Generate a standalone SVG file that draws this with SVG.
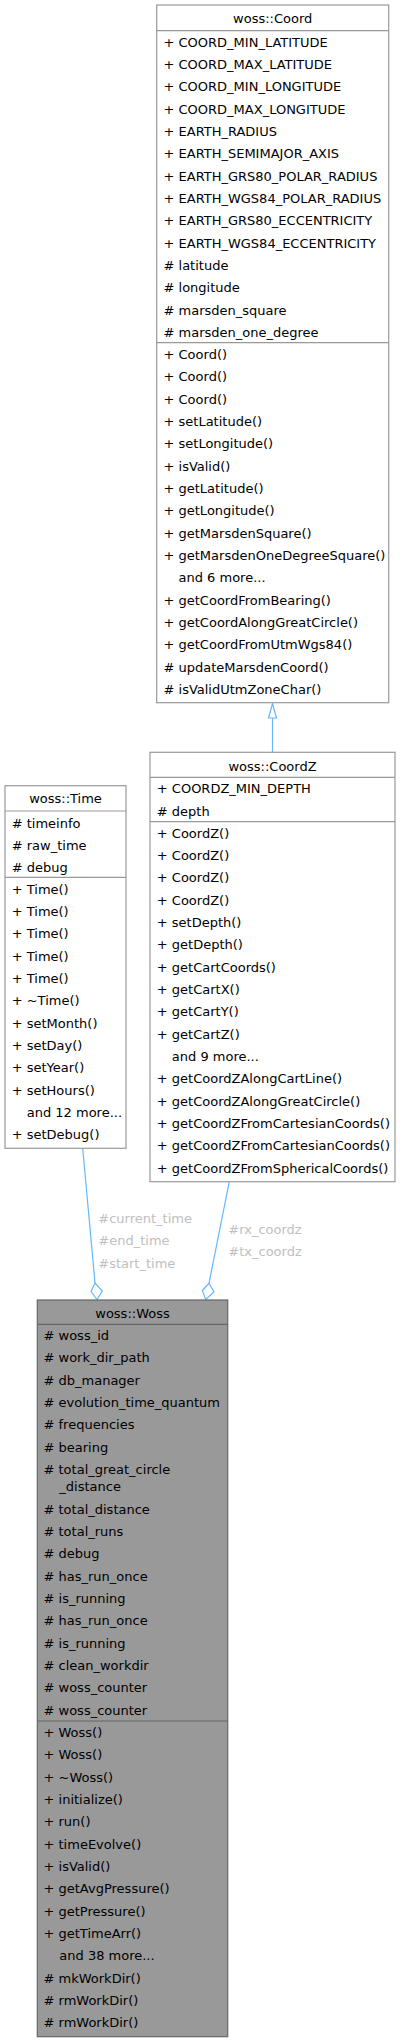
<svg xmlns="http://www.w3.org/2000/svg" width="400" height="2042" viewBox="0 0 400 2042">
<style>
text{font-family:"DejaVu Sans","Liberation Sans",sans-serif;font-size:13px;fill:#000}
.t{text-anchor:middle}
.box{fill:#fff;stroke:#999;stroke-width:1.2}
.sep{stroke:#999;stroke-width:1.2}
.hbox{fill:#999;stroke:#666;stroke-width:1.2}
.hsep{stroke:#666;stroke-width:1.2}
.e{fill:none;stroke:#63b8ff;stroke-width:1.2}
.lbl{fill:#c0c0c0}
</style>
<g id="edges">
<path class="e" d="M272.5,752.3 L272.5,718"/>
<polygon class="e" fill="#fff" style="fill:#fff" points="272.5,703.5 276.5,718 268.5,718"/>
<path class="e" d="M82.7,1148.3 L95,1283"/>
<polygon class="e" style="fill:#fff" points="95,1283 102.3,1291 97,1299.5 91,1291.5"/>
<path class="e" d="M229.3,1181.7 L209,1283.3"/>
<polygon class="e" style="fill:#fff" points="209,1283.3 214,1292 205.7,1299.5 202.3,1290.5"/>
<text class="lbl" x="98.3" y="1223">#current_time</text>
<text class="lbl" x="98.3" y="1245.3">#end_time</text>
<text class="lbl" x="98.3" y="1267.6">#start_time</text>
<text class="lbl" x="228.3" y="1234">#rx_coordz</text>
<text class="lbl" x="228.3" y="1256.3">#tx_coordz</text>
</g>
<g id="coord">
<rect class="box" x="156.7" y="5" width="232" height="697.7"/>
<line class="sep" x1="156.7" y1="30.7" x2="388.7" y2="30.7"/>
<line class="sep" x1="156.7" y1="342.7" x2="388.7" y2="342.7"/>
<text class="t" x="272.7" y="23.3">woss::Coord</text>
<g transform="translate(163.5,0)">
<text y="46.5">+ COORD_MIN_LATITUDE</text>
<text y="68.8">+ COORD_MAX_LATITUDE</text>
<text y="91.2">+ COORD_MIN_LONGITUDE</text>
<text y="113.5">+ COORD_MAX_LONGITUDE</text>
<text y="135.8">+ EARTH_RADIUS</text>
<text y="158.2">+ EARTH_SEMIMAJOR_AXIS</text>
<text y="180.5">+ EARTH_GRS80_POLAR_RADIUS</text>
<text y="202.8">+ EARTH_WGS84_POLAR_RADIUS</text>
<text y="225.1">+ EARTH_GRS80_ECCENTRICITY</text>
<text y="247.5">+ EARTH_WGS84_ECCENTRICITY</text>
<text y="269.8"># latitude</text>
<text y="292.1"># longitude</text>
<text y="314.5"># marsden_square</text>
<text y="336.8"># marsden_one_degree</text>
<text y="359">+ Coord()</text>
<text y="381.3">+ Coord()</text>
<text y="403.7">+ Coord()</text>
<text y="426">+ setLatitude()</text>
<text y="448.3">+ setLongitude()</text>
<text y="470.7">+ isValid()</text>
<text y="493">+ getLatitude()</text>
<text y="515.3">+ getLongitude()</text>
<text y="537.6">+ getMarsdenSquare()</text>
<text y="560">+ getMarsdenOneDegreeSquare()</text>
<text x="15" y="582.3">and 6 more...</text>
<text y="604.6">+ getCoordFromBearing()</text>
<text y="627">+ getCoordAlongGreatCircle()</text>
<text y="649.3">+ getCoordFromUtmWgs84()</text>
<text y="671.6"># updateMarsdenCoord()</text>
<text y="694"># isValidUtmZoneChar()</text>
</g>
</g>
<g id="coordz">
<rect class="box" x="150" y="752.3" width="245" height="429.4"/>
<line class="sep" x1="150" y1="777.3" x2="395" y2="777.3"/>
<line class="sep" x1="150" y1="821.7" x2="395" y2="821.7"/>
<text class="t" x="272.5" y="770.7">woss::CoordZ</text>
<g transform="translate(156.8,0)">
<text y="793.3">+ COORDZ_MIN_DEPTH</text>
<text y="815.7"># depth</text>
<text y="837.7">+ CoordZ()</text>
<text y="860">+ CoordZ()</text>
<text y="882.4">+ CoordZ()</text>
<text y="904.7">+ CoordZ()</text>
<text y="927">+ setDepth()</text>
<text y="949.4">+ getDepth()</text>
<text y="971.7">+ getCartCoords()</text>
<text y="994">+ getCartX()</text>
<text y="1016.3">+ getCartY()</text>
<text y="1038.7">+ getCartZ()</text>
<text x="15" y="1061">and 9 more...</text>
<text y="1083.3">+ getCoordZAlongCartLine()</text>
<text y="1105.7">+ getCoordZAlongGreatCircle()</text>
<text y="1128">+ getCoordZFromCartesianCoords()</text>
<text y="1150.3">+ getCoordZFromCartesianCoords()</text>
<text y="1172.7">+ getCoordZFromSphericalCoords()</text>
</g>
</g>
<g id="time">
<rect class="box" x="5" y="785.7" width="121" height="362.6"/>
<line class="sep" x1="5" y1="811" x2="126" y2="811"/>
<line class="sep" x1="5" y1="877.3" x2="126" y2="877.3"/>
<text class="t" x="65.5" y="803.3">woss::Time</text>
<g transform="translate(11.7,0)">
<text y="827.5"># timeinfo</text>
<text y="849.8"># raw_time</text>
<text y="872.2"># debug</text>
<text y="893.5">+ Time()</text>
<text y="915.8">+ Time()</text>
<text y="938.2">+ Time()</text>
<text y="960.5">+ Time()</text>
<text y="982.8">+ Time()</text>
<text y="1005.2">+ ~Time()</text>
<text y="1027.5">+ setMonth()</text>
<text y="1049.8">+ setDay()</text>
<text y="1072.1">+ setYear()</text>
<text y="1094.5">+ setHours()</text>
<text x="15" y="1116.8">and 12 more...</text>
<text y="1139.1">+ setDebug()</text>
</g>
</g>
<g id="woss">
<rect class="hbox" x="37.3" y="1300" width="190.4" height="736.7"/>
<line class="hsep" x1="37.3" y1="1324.3" x2="227.7" y2="1324.3"/>
<line class="hsep" x1="37.3" y1="1721" x2="227.7" y2="1721"/>
<text class="t" x="132.5" y="1318">woss::Woss</text>
<g transform="translate(43.5,0)">
<text y="1340"># woss_id</text>
<text y="1362.3"># work_dir_path</text>
<text y="1384.7"># db_manager</text>
<text y="1407"># evolution_time_quantum</text>
<text y="1429.3"># frequencies</text>
<text y="1451.7"># bearing</text>
<text y="1474"># total_great_circle</text>
<text x="15.8" y="1491.4">_distance</text>
<text y="1513.7"># total_distance</text>
<text y="1536"># total_runs</text>
<text y="1558.4"># debug</text>
<text y="1580.7"># has_run_once</text>
<text y="1603"># is_running</text>
<text y="1625.4"># has_run_once</text>
<text y="1647.7"># is_running</text>
<text y="1670"># clean_workdir</text>
<text y="1692.3"># woss_counter</text>
<text y="1714.7"># woss_counter</text>
<text y="1737">+ Woss()</text>
<text y="1759.3">+ Woss()</text>
<text y="1781.7">+ ~Woss()</text>
<text y="1804">+ initialize()</text>
<text y="1826.3">+ run()</text>
<text y="1848.7">+ timeEvolve()</text>
<text y="1871">+ isValid()</text>
<text y="1893.3">+ getAvgPressure()</text>
<text y="1915.6">+ getPressure()</text>
<text y="1938">+ getTimeArr()</text>
<text x="15.8" y="1960.3">and 38 more...</text>
<text y="1982.6"># mkWorkDir()</text>
<text y="2005"># rmWorkDir()</text>
<text y="2027.3"># rmWorkDir()</text>
</g>
</g>
</svg>
